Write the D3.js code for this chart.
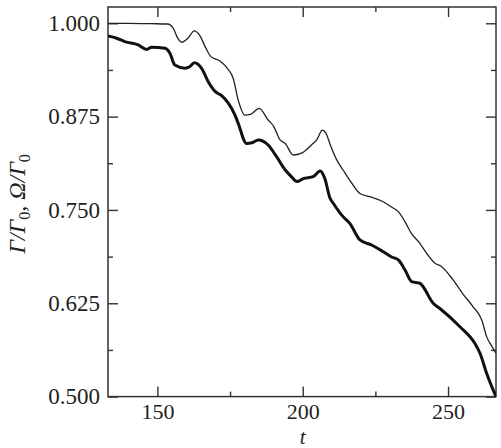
<!DOCTYPE html>
<html>
<head>
<meta charset="utf-8">
<script src="https://cdn.jsdelivr.net/npm/d3@7"></script>
<style>
  html, body { margin: 0; padding: 0; background: #fff; }
</style>
</head>
<body>
<svg id="chart" width="501" height="448"></svg>
<script>
// ---- data ----
const tThin = [133, 140, 148, 153.5, 155.5, 157, 158.4, 160.5, 162.7, 164.5, 166.5, 168.4, 171.5, 174, 176.1, 177.8, 180.1, 182, 185, 188.1, 190, 192.2, 194, 196.7, 199.6, 203, 205, 206.7, 208, 209.4, 211.7, 213.9, 216.5, 219.7, 223.1, 227.7, 230.5, 232.9, 235.2, 237.5, 240.3, 243, 245.5, 247.5, 251.8, 255, 258.7, 261.6, 263.3, 265, 266.5];
const omegaVals = [1.000, 1.000, 0.9995, 0.999, 0.993, 0.980, 0.9746, 0.980, 0.9897, 0.984, 0.968, 0.9553, 0.9495, 0.940, 0.926, 0.897, 0.877, 0.878, 0.886, 0.8705, 0.862, 0.8437, 0.839, 0.8236, 0.826, 0.837, 0.845, 0.857, 0.853, 0.838, 0.817, 0.8035, 0.788, 0.772, 0.7677, 0.761, 0.754, 0.7477, 0.734, 0.718, 0.7053, 0.690, 0.6785, 0.675, 0.656, 0.638, 0.620, 0.6026, 0.580, 0.568, 0.558];

const tThick = [133, 136, 138.8, 143.4, 146.3, 148, 152.6, 154.3, 156, 159.5, 161.2, 162.7, 165.2, 167.5, 169.8, 172.1, 174.4, 176.7, 177.8, 180.7, 182.5, 184.7, 188.1, 191, 194, 196, 198, 200.2, 203.6, 206, 207.6, 209.4, 210.5, 213.4, 216.2, 219.7, 223.7, 227.7, 230.6, 232.9, 235.2, 237.5, 240.3, 244.9, 247.2, 254.1, 259.2, 261, 263.3, 266.5];
const gammaVals = [0.983, 0.980, 0.9754, 0.971, 0.965, 0.968, 0.9665, 0.960, 0.944, 0.9397, 0.942, 0.947, 0.9397, 0.9218, 0.909, 0.903, 0.893, 0.877, 0.866, 0.839, 0.840, 0.8437, 0.837, 0.8213, 0.8035, 0.795, 0.788, 0.792, 0.7945, 0.802, 0.792, 0.7656, 0.759, 0.743, 0.732, 0.7098, 0.703, 0.694, 0.687, 0.683, 0.6696, 0.654, 0.6518, 0.625, 0.618, 0.5936, 0.5714, 0.558, 0.531, 0.500];

const xMajor = [150, 200, 250];
const xMinor = [175, 225];
const yMajor = [0.500, 0.625, 0.750, 0.875, 1.000];
const yMinor = [0.5625, 0.6875, 0.8125, 0.9375];

// ---- layout ----
const L = 108, R = 496, T = 7, B = 396.6;
const FONT = '"Liberation Serif", "Times New Roman", Times, serif';
const x = d3.scaleLinear().domain([133, 266.5]).range([L, R]);
const y = d3.scaleLinear().domain([0.5, 1.0218]).range([B, T]);

const svg = d3.select("#chart");
const axisColor = "#333";

svg.append("defs").append("clipPath").attr("id", "clip")
  .append("rect").attr("x", L).attr("y", T).attr("width", R - L).attr("height", B - T);

function styleAxis(g) {
  g.select(".domain").remove();
  g.selectAll(".tick line").attr("stroke", axisColor).attr("stroke-width", 1.4);
  g.selectAll(".tick text").style("font-family", FONT).style("font-size", "23px").style("fill", "#222");
}
// bottom
svg.append("g").attr("transform", `translate(0,${B})`)
  .call(d3.axisBottom(x).tickValues(xMajor).tickSize(-10).tickPadding(7).tickFormat(d3.format("d")))
  .call(styleAxis)
  .call(g => g.selectAll(".tick text").style("font-size", "22px"));
svg.append("g").attr("transform", `translate(0,${B})`)
  .call(d3.axisBottom(x).tickValues(xMinor).tickSize(-5).tickFormat(""))
  .call(styleAxis);
// top
svg.append("g").attr("transform", `translate(0,${T})`)
  .call(d3.axisTop(x).tickValues(xMajor).tickSize(-10).tickFormat(""))
  .call(styleAxis);
svg.append("g").attr("transform", `translate(0,${T})`)
  .call(d3.axisTop(x).tickValues(xMinor).tickSize(-5).tickFormat(""))
  .call(styleAxis);
// left
svg.append("g").attr("transform", `translate(${L},0)`)
  .call(d3.axisLeft(y).tickValues(yMajor).tickSize(-10).tickPadding(8).tickFormat(d3.format(".3f")))
  .call(styleAxis);
svg.append("g").attr("transform", `translate(${L},0)`)
  .call(d3.axisLeft(y).tickValues(yMinor).tickSize(-5).tickFormat(""))
  .call(styleAxis);
// right
svg.append("g").attr("transform", `translate(${R},0)`)
  .call(d3.axisRight(y).tickValues(yMajor).tickSize(-10).tickFormat(""))
  .call(styleAxis);
svg.append("g").attr("transform", `translate(${R},0)`)
  .call(d3.axisRight(y).tickValues(yMinor).tickSize(-5).tickFormat(""))
  .call(styleAxis);

// frame
svg.append("rect").attr("x", L).attr("y", T).attr("width", R - L).attr("height", B - T)
  .attr("fill", "none").attr("stroke", axisColor).attr("stroke-width", 1.5);

// lines
const line = d3.line().curve(d3.curveMonotoneX).x(d => x(d[0])).y(d => y(d[1]));
const plot = svg.append("g").attr("clip-path", "url(#clip)");
plot.append("path").datum(d3.zip(tThin, omegaVals))
  .attr("d", line).attr("fill", "none").attr("stroke", "#222").attr("stroke-width", 1.3);
plot.append("path").datum(d3.zip(tThick, gammaVals))
  .attr("d", line).attr("fill", "none").attr("stroke", "#111").attr("stroke-width", 3);

// axis labels
svg.append("text").attr("x", x(200)).attr("y", 443.5).attr("text-anchor", "middle")
  .style("font-family", FONT).style("font-size", "21px").style("font-style", "italic").style("fill", "#222")
  .text("t");

const yl = svg.append("text").attr("transform", `translate(25,204) rotate(-90)`)
  .attr("text-anchor", "middle")
  .style("font-family", FONT).style("font-size", "24px").style("font-style", "italic").style("fill", "#222");
yl.append("tspan").text("Γ/Γ");
yl.append("tspan").attr("dy", 5).style("font-size", "16px").style("font-style", "normal").text("0");
yl.append("tspan").attr("dy", -5).text(", Ω/Γ");
yl.append("tspan").attr("dy", 5).style("font-size", "16px").style("font-style", "normal").text("0");
</script>
</body>
</html>
